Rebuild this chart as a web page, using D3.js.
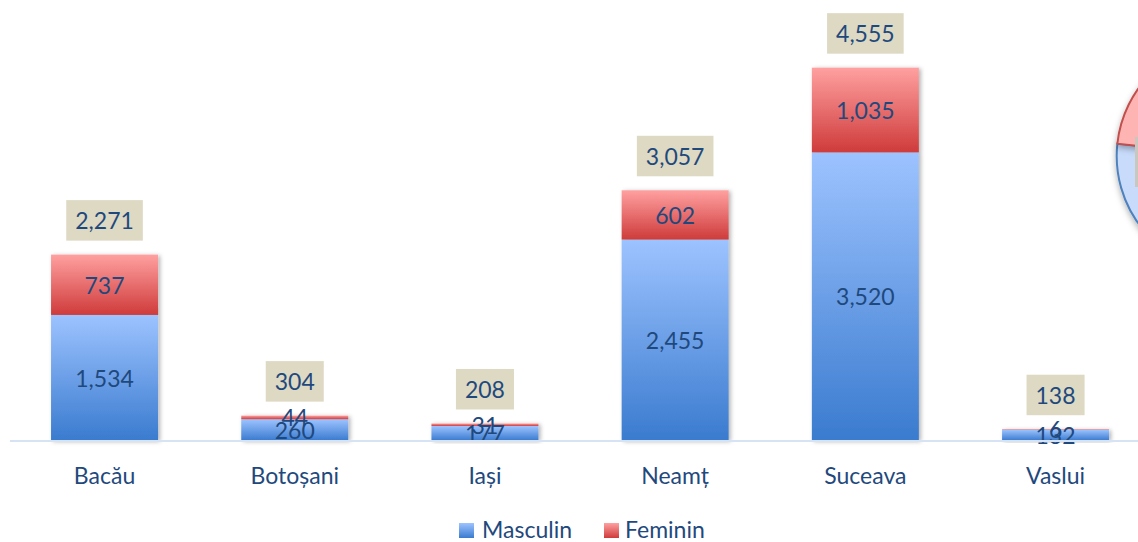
<!DOCTYPE html>
<html>
<head>
<meta charset="utf-8">
<script src="https://cdn.jsdelivr.net/npm/d3@7/dist/d3.min.js"></script>
<style>
  html, body { margin: 0; padding: 0; background: #ffffff; }
  svg { display: block; font-family: Lato, "Noto Sans", sans-serif; }
</style>
</head>
<body>
<svg id="chart" width="1138" height="542"></svg>
<script>
const categories = ["Bacău", "Botoșani", "Iași", "Neamț", "Suceava", "Vaslui"];
const masculin = [1534, 260, 177, 2455, 3520, 132];
const feminin  = [737, 44, 31, 602, 1035, 6];
const totals   = [2271, 304, 208, 3057, 4555, 138];
const seriesNames = ["Masculin", "Feminin"];
const pieValues = [8078, 2455];

const svg = d3.select("#chart");
const W = 1138, H = 542;
const fmt = d3.format(",");
const textColor = "#1f497d";

const defs = svg.append("defs");
function grad(id, top, bottom) {
  const g = defs.append("linearGradient").attr("id", id)
    .attr("x1", 0).attr("y1", 0).attr("x2", 0).attr("y2", 1);
  g.append("stop").attr("offset", "0%").attr("stop-color", top);
  g.append("stop").attr("offset", "100%").attr("stop-color", bottom);
}
grad("gBlue", "#9dc3ff", "#3a7bcf");
grad("gRed", "#ffa0a0", "#cf3b3b");
const sh = defs.append("filter").attr("id", "shadow")
  .attr("x", "-20%").attr("y", "-20%").attr("width", "140%").attr("height", "140%");
sh.append("feDropShadow").attr("dx", 2).attr("dy", 1).attr("stdDeviation", 2)
  .attr("flood-color", "#000").attr("flood-opacity", 0.3);
const psh = defs.append("filter").attr("id", "pshadow")
  .attr("x", "-20%").attr("y", "-20%").attr("width", "140%").attr("height", "140%");
psh.append("feDropShadow").attr("dx", 0).attr("dy", 3).attr("stdDeviation", 3)
  .attr("flood-color", "#000").attr("flood-opacity", 0.3);

const x = d3.scaleBand().domain(categories).range([9.2, 1150.9])
  .paddingInner(0.4375).paddingOuter(0.22);
const y = d3.scaleLinear().domain([0, 5000]).range([440.5, 440.5 - 5000 * 0.08185]);

// Pie (partially visible at right edge)
const pieG = svg.append("g").attr("transform", "translate(1232.7,156)");
const pie = d3.pie().sort(null).value(d => d);
const arc = d3.arc().innerRadius(0).outerRadius(116);
const pieFill = ["#c8dbfb", "#ffb4b4"];
const pieStroke = ["#4f81bd", "#c0504d"];
pieG.selectAll("path").data(pie(pieValues)).join("path")
  .attr("d", arc)
  .attr("fill", (d, i) => pieFill[i])
  .attr("stroke", (d, i) => pieStroke[i])
  .attr("stroke-width", 2)
  .attr("filter", "url(#pshadow)");
svg.append("rect").attr("x", 1135).attr("y", 137).attr("width", 40).attr("height", 50)
  .attr("fill", "#cac8be");

// Bars
const stackData = categories.map((c, i) => ({ cat: c, m: masculin[i], f: feminin[i], t: totals[i] }));
const g = svg.append("g");
const barG = g.selectAll("g.bar").data(stackData).join("g").attr("class", "bar")
  .attr("filter", "url(#shadow)");
barG.append("rect")
  .attr("x", d => x(d.cat)).attr("width", x.bandwidth())
  .attr("y", d => y(d.m)).attr("height", d => y(0) - y(d.m))
  .attr("fill", "url(#gBlue)");
barG.append("rect")
  .attr("x", d => x(d.cat)).attr("width", x.bandwidth())
  .attr("y", d => y(d.m + d.f)).attr("height", d => y(d.m) - y(d.m + d.f))
  .attr("fill", "url(#gRed)");

// Axis baseline
svg.append("line").attr("x1", 10).attr("x2", W).attr("y1", 441).attr("y2", 441)
  .attr("stroke", "#d5e3f4").attr("stroke-width", 2);

// Segment labels
const lblFont = 23;
g.selectAll("text.m").data(stackData).join("text")
  .attr("x", d => x(d.cat) + x.bandwidth() / 2)
  .attr("y", d => (y(0) + y(d.m)) / 2)
  .attr("text-anchor", "middle").attr("dominant-baseline", "central")
  .attr("font-size", lblFont).attr("fill", textColor)
  .text(d => fmt(d.m));
g.selectAll("text.f").data(stackData).join("text")
  .attr("x", d => x(d.cat) + x.bandwidth() / 2)
  .attr("y", d => (y(d.m) + y(d.m + d.f)) / 2)
  .attr("text-anchor", "middle").attr("dominant-baseline", "central")
  .attr("font-size", lblFont).attr("fill", textColor)
  .text(d => fmt(d.f));

// Total labels with boxes
const tg = g.selectAll("g.tot").data(stackData).join("g").attr("class", "tot");
tg.each(function(d) {
  const sel = d3.select(this);
  const cx = x(d.cat) + x.bandwidth() / 2;
  const boxBottom = y(d.t) - 14;
  const boxH = 40.5;
  const rect = sel.append("rect").attr("fill", "#ddd9c3");
  const t = sel.append("text")
    .attr("x", cx).attr("y", boxBottom - boxH / 2)
    .attr("text-anchor", "middle").attr("dominant-baseline", "central")
    .attr("font-size", lblFont).attr("fill", textColor)
    .text(fmt(d.t));
  const w = t.node().getComputedTextLength() + 18;
  rect.attr("x", cx - w / 2).attr("y", boxBottom - boxH).attr("width", w).attr("height", boxH);
});

// Category labels
svg.selectAll("text.cat").data(categories).join("text")
  .attr("x", d => x(d) + x.bandwidth() / 2).attr("y", 484)
  .attr("text-anchor", "middle").attr("font-size", 23).attr("fill", textColor)
  .text(d => d);

// Legend
const legend = [
  { name: seriesNames[0], fill: "url(#gBlue)", sx: 459, tx: 482 },
  { name: seriesNames[1], fill: "url(#gRed)", sx: 604, tx: 625 }
];
const lg = svg.selectAll("g.leg").data(legend).join("g");
lg.append("rect").attr("x", d => d.sx).attr("y", 523).attr("width", 15).attr("height", 15)
  .attr("fill", d => d.fill);
lg.append("text").attr("x", d => d.tx).attr("y", 538).attr("font-size", 23)
  .attr("fill", textColor).text(d => d.name);
</script>
</body>
</html>
